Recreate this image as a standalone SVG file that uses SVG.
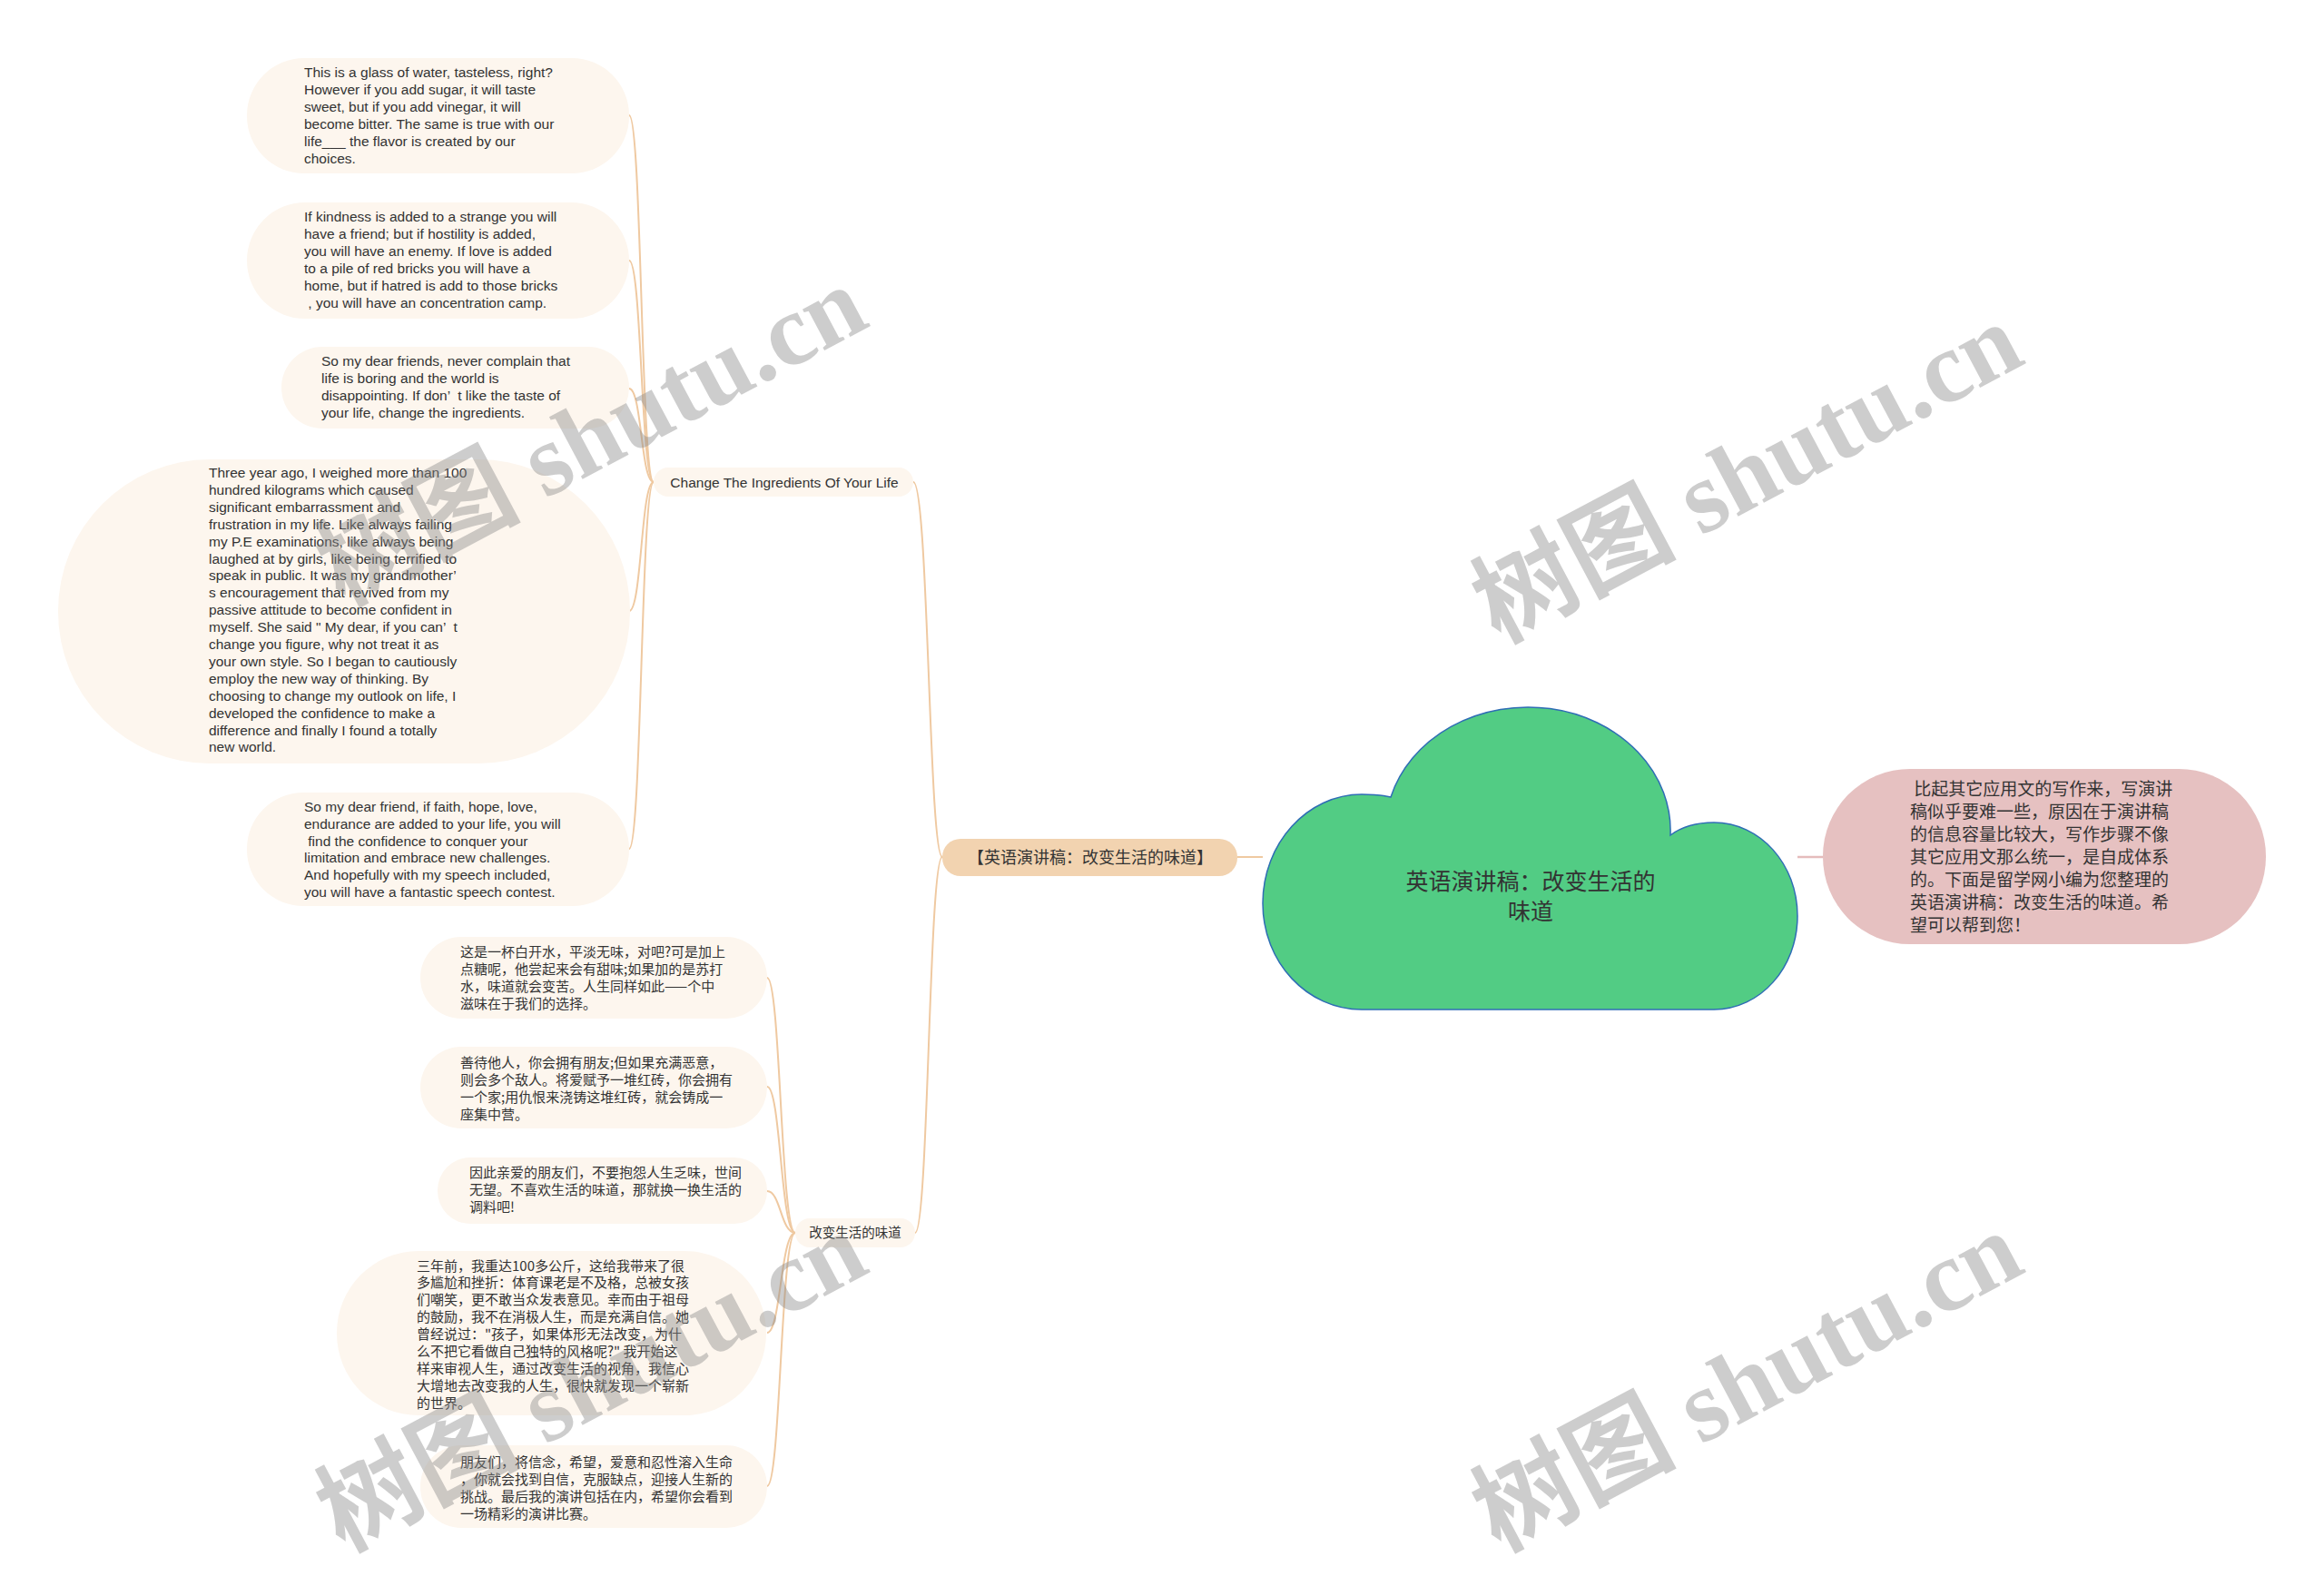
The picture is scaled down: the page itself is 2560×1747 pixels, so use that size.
<svg xmlns="http://www.w3.org/2000/svg" width="2560" height="1747" viewBox="0 0 2560 1747">
<style>
.bg{fill:#ffffff}
.leaf{fill:#fdf6ee}
.sub{fill:#fdf6ee}
.lvl1{fill:#f2d3b0}
.pink{fill:#e6c1c1}
.cloud{fill:#52cc84;stroke:#2f6db5;stroke-width:1.5}
.con{fill:none;stroke:#efc9a1;stroke-width:2}
.conp{fill:none;stroke:#e5bcbc;stroke-width:2.5}
.en{font-family:"Liberation Sans",Arial,sans-serif;font-size:15.5px;fill:#333333}
.zh{font-family:"Noto Sans CJK SC","Liberation Sans",sans-serif;font-size:15px;fill:#333333}
.wm{font-family:"Liberation Serif","Noto Sans CJK SC",serif;font-weight:bold;font-size:112px;fill:#888888;fill-opacity:0.42}
</style>
<rect class="bg" x="0" y="0" width="2560" height="1747"/>

<g id="connectors">
  <path class="con" d="M1391 944 L1363 944"/>
  <path class="conp" d="M1980 944 L2008 944"/>
  <path class="con" d="M1038 944 C1023 944 1023 531 1006 531"/>
  <path class="con" d="M1038 944 C1023 944 1023 1358 1008 1358"/>
  <path class="con" d="M720 531 C706 531 707 127 693 127"/>
  <path class="con" d="M720 531 C706 531 707 287 693 287"/>
  <path class="con" d="M720 531 C706 531 707 428 693 428"/>
  <path class="con" d="M720 531 C706 531 707 673 693 673"/>
  <path class="con" d="M720 531 C706 531 707 935 693 935"/>
  <path class="con" d="M876 1358 C860 1358 860 1077 845 1077"/>
  <path class="con" d="M876 1358 C860 1358 860 1197 845 1197"/>
  <path class="con" d="M876 1358 C860 1358 860 1312 845 1312"/>
  <path class="con" d="M876 1358 C860 1358 860 1468 845 1468"/>
  <path class="con" d="M876 1358 C860 1358 860 1637 845 1637"/>
</g>

<g id="root">
  <path class="cloud" d="M1532 878 A157 136 0 0 1 1840 920 C1852 911 1870 906 1888 906 C1939 906 1980 952 1980 1009 C1980 1066 1939 1112 1888 1112 L1500 1112 C1440 1112 1391 1060 1391 995 C1391 929 1440 875 1500 875 C1512 875 1523 876 1532 878 Z"/>
  <text class="zh" style="font-size:25px" text-anchor="middle"><tspan x="1686" y="980">英语演讲稿：改变生活的</tspan><tspan x="1686" y="1013">味道</tspan></text>
</g>

<g id="intro">
  <rect class="pink" x="2008" y="847" width="488" height="193" rx="96"/>
  <text class="zh" style="font-size:19px">
    <tspan x="2104" y="875.5" xml:space="preserve"> 比起其它应用文的写作来，写演讲</tspan>
    <tspan x="2104" y="900.5">稿似乎要难一些，原因在于演讲稿</tspan>
    <tspan x="2104" y="925.5">的信息容量比较大，写作步骤不像</tspan>
    <tspan x="2104" y="950.5">其它应用文那么统一，是自成体系</tspan>
    <tspan x="2104" y="975.5">的。下面是留学网小编为您整理的</tspan>
    <tspan x="2104" y="1000.5">英语演讲稿：改变生活的味道。希</tspan>
    <tspan x="2104" y="1025.5">望可以帮到您！</tspan>
  </text>
</g>

<g id="level1">
  <rect class="lvl1" x="1038" y="924" width="325" height="41" rx="20"/>
  <text class="zh" style="font-size:18px" x="1201" y="950.5" text-anchor="middle">【英语演讲稿：改变生活的味道】</text>
</g>

<g id="change-ingredients">
  <rect class="sub" x="720" y="515" width="286" height="32" rx="16"/>
  <text class="en" x="864" y="536.5" text-anchor="middle">Change The Ingredients Of Your Life</text>
</g>

<g id="gaibian">
  <rect class="sub" x="876" y="1342" width="132" height="32" rx="16"/>
  <text class="zh" style="font-size:14.5px" x="942" y="1363" text-anchor="middle">改变生活的味道</text>
</g>

<g id="en1">
  <rect class="leaf" x="272" y="64" width="421" height="127" rx="63"/>
  <text class="en">
    <tspan x="335" y="85">This is a glass of water, tasteless, right?</tspan>
    <tspan x="335" y="104">However if you add sugar, it will taste</tspan>
    <tspan x="335" y="123">sweet, but if you add vinegar, it will</tspan>
    <tspan x="335" y="142">become bitter. The same is true with our</tspan>
    <tspan x="335" y="161">life___ the flavor is created by our</tspan>
    <tspan x="335" y="180">choices.</tspan>
  </text>
</g>

<g id="en2">
  <rect class="leaf" x="272" y="223" width="421" height="128" rx="64"/>
  <text class="en">
    <tspan x="335" y="244">If kindness is added to a strange you will</tspan>
    <tspan x="335" y="263">have a friend; but if hostility is added,</tspan>
    <tspan x="335" y="282">you will have an enemy. If love is added</tspan>
    <tspan x="335" y="301">to a pile of red bricks you will have a</tspan>
    <tspan x="335" y="320">home, but if hatred is add to those bricks</tspan>
    <tspan x="335" y="339" xml:space="preserve"> , you will have an concentration camp.</tspan>
  </text>
</g>

<g id="en3">
  <rect class="leaf" x="310" y="382" width="383" height="90" rx="45"/>
  <text class="en">
    <tspan x="354" y="403">So my dear friends, never complain that</tspan>
    <tspan x="354" y="422">life is boring and the world is</tspan>
    <tspan x="354" y="441" xml:space="preserve">disappointing. If don’  t like the taste of</tspan>
    <tspan x="354" y="460">your life, change the ingredients.</tspan>
  </text>
</g>

<g id="en4">
  <rect class="leaf" x="64" y="506" width="630" height="335" rx="167"/>
  <text class="en">
    <tspan x="230" y="526">Three year ago, I weighed more than 100</tspan>
    <tspan x="230" y="544.9">hundred kilograms which caused</tspan>
    <tspan x="230" y="563.8">significant embarrassment and</tspan>
    <tspan x="230" y="582.7">frustration in my life. Like always failing</tspan>
    <tspan x="230" y="601.6">my P.E examinations, like always being</tspan>
    <tspan x="230" y="620.5">laughed at by girls, like being terrified to</tspan>
    <tspan x="230" y="639.4">speak in public. It was my grandmother’</tspan>
    <tspan x="230" y="658.3">s encouragement that revived from my</tspan>
    <tspan x="230" y="677.2">passive attitude to become confident in</tspan>
    <tspan x="230" y="696.1" xml:space="preserve">myself. She said " My dear, if you can’  t</tspan>
    <tspan x="230" y="715">change you figure, why not treat it as</tspan>
    <tspan x="230" y="733.9">your own style. So I began to cautiously</tspan>
    <tspan x="230" y="752.8">employ the new way of thinking. By</tspan>
    <tspan x="230" y="771.7">choosing to change my outlook on life, I</tspan>
    <tspan x="230" y="790.6">developed the confidence to make a</tspan>
    <tspan x="230" y="809.5">difference and finally I found a totally</tspan>
    <tspan x="230" y="828.4">new world.</tspan>
  </text>
</g>

<g id="en5">
  <rect class="leaf" x="272" y="873" width="421" height="125" rx="62"/>
  <text class="en">
    <tspan x="335" y="894">So my dear friend, if faith, hope, love,</tspan>
    <tspan x="335" y="913">endurance are added to your life, you will</tspan>
    <tspan x="335" y="932" xml:space="preserve"> find the confidence to conquer your</tspan>
    <tspan x="335" y="950">limitation and embrace new challenges.</tspan>
    <tspan x="335" y="969">And hopefully with my speech included,</tspan>
    <tspan x="335" y="988">you will have a fantastic speech contest.</tspan>
  </text>
</g>

<g id="zh1">
  <rect class="leaf" x="463" y="1032" width="382" height="90" rx="45"/>
  <text class="zh">
    <tspan x="507" y="1053.5">这是一杯白开水，平淡无味，对吧?可是加上</tspan>
    <tspan x="507" y="1072.5">点糖呢，他尝起来会有甜味;如果加的是苏打</tspan>
    <tspan x="507" y="1091.5">水，味道就会变苦。人生同样如此——个中</tspan>
    <tspan x="507" y="1110.5">滋味在于我们的选择。</tspan>
  </text>
</g>

<g id="zh2">
  <rect class="leaf" x="463" y="1153" width="382" height="90" rx="45"/>
  <text class="zh">
    <tspan x="507" y="1175.5">善待他人，你会拥有朋友;但如果充满恶意，</tspan>
    <tspan x="507" y="1194.5">则会多个敌人。将爱赋予一堆红砖，你会拥有</tspan>
    <tspan x="507" y="1213.5">一个家;用仇恨来浇铸这堆红砖，就会铸成一</tspan>
    <tspan x="507" y="1232.5">座集中营。</tspan>
  </text>
</g>

<g id="zh3">
  <rect class="leaf" x="482" y="1275" width="363" height="73" rx="36"/>
  <text class="zh">
    <tspan x="517" y="1296.5">因此亲爱的朋友们，不要抱怨人生乏味，世间</tspan>
    <tspan x="517" y="1315.5">无望。不喜欢生活的味道，那就换一换生活的</tspan>
    <tspan x="517" y="1334.5">调料吧!</tspan>
  </text>
</g>

<g id="zh4">
  <rect class="leaf" x="371" y="1378" width="473" height="181" rx="90"/>
  <text class="zh">
    <tspan x="459" y="1399.5">三年前，我重达100多公斤，这给我带来了很</tspan>
    <tspan x="459" y="1418.4">多尴尬和挫折：体育课老是不及格，总被女孩</tspan>
    <tspan x="459" y="1437.3">们嘲笑，更不敢当众发表意见。幸而由于祖母</tspan>
    <tspan x="459" y="1456.2">的鼓励，我不在消极人生，而是充满自信。她</tspan>
    <tspan x="459" y="1475.1">曾经说过："孩子，如果体形无法改变，为什</tspan>
    <tspan x="459" y="1494">么不把它看做自己独特的风格呢?" 我开始这</tspan>
    <tspan x="459" y="1512.9">样来审视人生，通过改变生活的视角，我信心</tspan>
    <tspan x="459" y="1531.8">大增地去改变我的人生，很快就发现一个崭新</tspan>
    <tspan x="459" y="1550.7">的世界。</tspan>
  </text>
</g>

<g id="zh5">
  <rect class="leaf" x="463" y="1592" width="382" height="91" rx="45"/>
  <text class="zh">
    <tspan x="507" y="1615.5">朋友们，将信念，希望，爱意和忍性溶入生命</tspan>
    <tspan x="507" y="1634.5">，你就会找到自信，克服缺点，迎接人生新的</tspan>
    <tspan x="507" y="1653.5">挑战。最后我的演讲包括在内，希望你会看到</tspan>
    <tspan x="507" y="1672.5">一场精彩的演讲比赛。</tspan>
  </text>
</g>

<g id="watermarks">
  <text class="wm" transform="translate(378 668) rotate(-28)">树图 shutu.cn</text>
  <text class="wm" transform="translate(1651 709) rotate(-28)">树图 shutu.cn</text>
  <text class="wm" transform="translate(378 1710) rotate(-28)">树图 shutu.cn</text>
  <text class="wm" transform="translate(1651 1710) rotate(-28)">树图 shutu.cn</text>
</g>
</svg>
